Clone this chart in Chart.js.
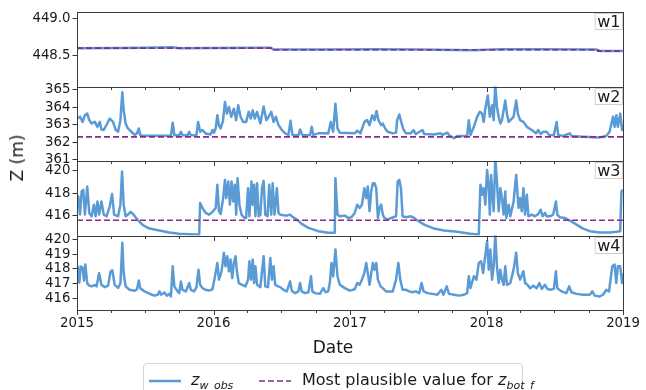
<!DOCTYPE html>
<html>
<head>
<meta charset="utf-8">
<title>Observed water level and bottom elevation, wells w1–w4</title>
<script src="https://cdn.jsdelivr.net/npm/chart.js@4.4.1/dist/chart.umd.min.js"></script>
<style>
  html, body { margin: 0; padding: 0; background: #ffffff; }
  #wrap { position: relative; width: 646px; height: 390px; overflow: hidden;
          font-family: "DejaVu Sans", sans-serif; color: #1a1a1a; }
  #plot { position: absolute; left: 0; top: 0; }
  #ylab { position: absolute; left: 17px; top: 158px; font-size: 17px; white-space: nowrap;
          transform: translate(-50%, -50%) rotate(-90deg); }
  #xlab { position: absolute; left: 333px; top: 347px; font-size: 17px;
          transform: translate(-50%, -50%); }
  #legend { position: absolute; left: 143px; top: 363px; width: 380px; height: 38px;
            box-sizing: border-box; border: 1px solid #d4d4d4; border-radius: 4px; background: #fff; }
  #legend svg { position: absolute; top: 0; }
  .lt { position: absolute; top: 6px; font-size: 16px; line-height: 20px; white-space: nowrap; }
  .lt i { font-style: italic; }
  .lt sub { font-size: 11px; font-style: italic; vertical-align: -4px; line-height: 0; }
</style>
</head>
<body>
<div id="wrap">
  <canvas id="plot" width="646" height="390"></canvas>
  <div id="ylab">Z (m)</div>
  <div id="xlab">Date</div>
  <div id="legend">
    <svg style="left:4px" width="34" height="36"><line x1="1" y1="17" x2="33" y2="17" stroke="#5b9bd5" stroke-width="2.5"/></svg>
    <div class="lt" style="left:47px"><i>z</i><sub>w_obs</sub></div>
    <svg style="left:114px" width="34" height="36"><line x1="1" y1="17" x2="33" y2="17" stroke="#8a2a8a" stroke-width="1.6" stroke-dasharray="6 3"/></svg>
    <div class="lt" style="left:158px">Most plausible value for <i>z</i><sub>bot_f</sub></div>
  </div>
</div>
<script>
// ---- axis ticks -------------------------------------------------------
const yearTicks = [2015, 2016, 2017, 2018, 2019];
const quarterTicks = [2015.247, 2015.496, 2015.748, 2016.247, 2016.496, 2016.748,
                      2017.247, 2017.496, 2017.748, 2018.247, 2018.496, 2018.748];
const wellNames = ['w1', 'w2', 'w3', 'w4'];
const w1Ticks = [448.5, 449.0];
const w2Ticks = [361, 362, 363, 364, 365];
const w3Ticks = [416, 418, 420];
const w4Ticks = [416, 417, 418, 419, 420];

// ---- observed water level z_w_obs: [decimal year, metres] ----------------
const w1Obs = [[2015.000, 448.600], [2015.300, 448.602], [2015.500, 448.605], [2015.700, 448.612],
  [2015.750, 448.600], [2016.000, 448.603], [2016.300, 448.606], [2016.420, 448.605],
  [2016.440, 448.580], [2016.800, 448.582], [2017.200, 448.585], [2017.500, 448.580],
  [2017.900, 448.572], [2018.100, 448.585], [2018.400, 448.585], [2018.800, 448.582],
  [2018.830, 448.562], [2019.000, 448.562]];

const w2Obs = [[2015.002, 363.35], [2015.022, 363.45], [2015.041, 363.16], [2015.058, 363.54],
  [2015.075, 363.63], [2015.090, 363.26], [2015.107, 363.07], [2015.131, 363.16], [2015.150, 362.88],
  [2015.167, 363.16], [2015.179, 362.73], [2015.196, 362.70], [2015.221, 363.07], [2015.240, 363.35],
  [2015.264, 363.16], [2015.284, 362.70], [2015.301, 362.60], [2015.318, 363.26], [2015.332, 364.85],
  [2015.342, 363.82], [2015.356, 363.07], [2015.373, 362.79], [2015.398, 362.60], [2015.422, 362.42],
  [2015.439, 362.51], [2015.453, 362.79], [2015.463, 362.42], [2015.482, 362.38], [2015.688, 362.38],
  [2015.701, 363.11], [2015.713, 362.40], [2015.749, 362.40], [2015.761, 362.60], [2015.773, 362.40],
  [2015.810, 362.40], [2015.822, 362.60], [2015.834, 362.40], [2015.875, 362.42], [2015.887, 363.16],
  [2015.902, 362.60], [2015.919, 362.70], [2015.943, 362.50], [2015.980, 362.45], [2015.992, 362.70],
  [2016.004, 362.55], [2016.016, 362.80], [2016.028, 363.54], [2016.040, 362.95], [2016.052, 362.79],
  [2016.069, 363.20], [2016.084, 364.29], [2016.098, 363.63], [2016.113, 364.01], [2016.130, 363.45],
  [2016.149, 363.91], [2016.166, 363.26], [2016.181, 364.10], [2016.198, 363.45], [2016.217, 363.16],
  [2016.239, 363.16], [2016.258, 363.73], [2016.273, 363.35], [2016.287, 363.82], [2016.302, 363.35],
  [2016.319, 363.73], [2016.343, 363.07], [2016.367, 364.04], [2016.387, 363.26], [2016.404, 363.45],
  [2016.423, 363.73], [2016.440, 363.16], [2016.457, 363.45], [2016.476, 362.98], [2016.501, 362.70],
  [2016.525, 362.51], [2016.549, 362.42], [2016.564, 363.22], [2016.578, 362.42], [2016.622, 362.40],
  [2016.634, 362.73], [2016.651, 362.42], [2016.707, 362.40], [2016.719, 362.88], [2016.731, 362.42],
  [2016.767, 362.51], [2016.816, 362.51], [2016.840, 362.50], [2016.859, 363.16], [2016.876, 362.60],
  [2016.893, 364.19], [2016.908, 362.79], [2016.925, 362.55], [2017.034, 362.51], [2017.053, 362.66],
  [2017.076, 362.51], [2017.105, 363.16], [2017.125, 363.26], [2017.143, 362.98], [2017.162, 363.54],
  [2017.179, 363.26], [2017.194, 363.78], [2017.208, 363.26], [2017.228, 362.98], [2017.240, 363.07],
  [2017.257, 362.79], [2017.276, 362.60], [2017.313, 362.51], [2017.337, 362.55], [2017.345, 363.26],
  [2017.361, 363.58], [2017.378, 363.07], [2017.393, 362.70], [2017.410, 362.51], [2017.446, 362.51],
  [2017.465, 362.70], [2017.482, 362.47], [2017.531, 362.70], [2017.543, 362.47], [2017.616, 362.45],
  [2017.664, 362.51], [2017.676, 362.42], [2017.713, 362.55], [2017.725, 362.42], [2017.761, 362.23],
  [2017.785, 362.36], [2017.834, 362.36], [2017.858, 362.38], [2017.870, 363.26], [2017.882, 362.42],
  [2017.907, 362.88], [2017.931, 363.45], [2017.950, 363.73], [2017.967, 363.63], [2017.979, 363.16],
  [2017.991, 363.91], [2018.009, 364.66], [2018.024, 363.45], [2018.040, 364.10], [2018.052, 363.26],
  [2018.064, 365.30], [2018.076, 364.01], [2018.089, 363.45], [2018.101, 363.07], [2018.113, 363.26],
  [2018.137, 364.38], [2018.149, 363.63], [2018.162, 363.16], [2018.198, 363.45], [2018.217, 364.38],
  [2018.229, 363.63], [2018.246, 363.26], [2018.270, 363.16], [2018.295, 362.88], [2018.331, 362.70],
  [2018.362, 362.51], [2018.379, 362.70], [2018.396, 362.47], [2018.416, 362.60], [2018.440, 362.60],
  [2018.459, 362.42], [2018.493, 362.40], [2018.513, 363.16], [2018.525, 362.42], [2018.561, 362.36],
  [2018.610, 362.51], [2018.622, 362.36], [2018.707, 362.32], [2018.829, 362.28], [2018.877, 362.36],
  [2018.901, 362.60], [2018.926, 363.45], [2018.938, 362.88], [2018.950, 363.54], [2018.962, 362.88],
  [2018.979, 363.63], [2018.993, 362.70], [2019.000, 363.00]];

const w3Obs = [[2015.000, 417.57], [2015.010, 417.72], [2015.022, 416.09], [2015.034, 418.16],
  [2015.046, 418.31], [2015.058, 416.09], [2015.075, 418.60], [2015.090, 416.24], [2015.107, 415.94],
  [2015.124, 416.98], [2015.136, 415.94], [2015.150, 417.27], [2015.162, 416.09], [2015.179, 417.27],
  [2015.196, 416.09], [2015.216, 415.94], [2015.240, 416.83], [2015.257, 417.93], [2015.272, 416.09],
  [2015.301, 415.94], [2015.318, 416.98], [2015.330, 419.94], [2015.342, 416.98], [2015.356, 415.94],
  [2015.373, 416.09], [2015.393, 416.33], [2015.410, 416.15], [2015.429, 415.85], [2015.453, 415.50],
  [2015.482, 415.14], [2015.531, 414.84], [2015.604, 414.67], [2015.676, 414.49], [2015.749, 414.37],
  [2015.822, 414.34], [2015.895, 414.31], [2015.902, 417.13], [2015.919, 416.68], [2015.943, 416.24],
  [2015.967, 416.09], [2015.992, 416.33], [2016.016, 416.68], [2016.028, 418.76], [2016.040, 416.39],
  [2016.052, 416.15], [2016.069, 417.42], [2016.084, 419.20], [2016.093, 417.57], [2016.108, 419.05],
  [2016.120, 416.98], [2016.132, 419.05], [2016.144, 417.27], [2016.156, 418.76], [2016.166, 416.09],
  [2016.176, 419.35], [2016.190, 416.98], [2016.205, 416.09], [2016.222, 415.85], [2016.239, 415.79],
  [2016.253, 418.46], [2016.263, 415.94], [2016.278, 419.05], [2016.287, 416.98], [2016.297, 418.76],
  [2016.307, 415.94], [2016.319, 418.90], [2016.331, 415.94], [2016.343, 416.09], [2016.355, 418.46],
  [2016.367, 419.11], [2016.379, 416.09], [2016.396, 415.94], [2016.408, 418.76], [2016.423, 416.09],
  [2016.433, 418.90], [2016.447, 416.09], [2016.464, 418.46], [2016.476, 416.24], [2016.488, 416.09],
  [2016.513, 416.03], [2016.537, 416.00], [2016.561, 416.09], [2016.573, 415.94], [2016.610, 415.64],
  [2016.646, 415.26], [2016.695, 414.90], [2016.767, 414.61], [2016.840, 414.46], [2016.888, 414.46],
  [2016.893, 419.35], [2016.908, 416.09], [2016.925, 415.94], [2016.962, 416.00], [2016.985, 415.79],
  [2017.010, 415.85], [2017.034, 416.24], [2017.053, 416.98], [2017.070, 416.68], [2017.087, 416.98],
  [2017.105, 418.46], [2017.118, 417.57], [2017.130, 418.60], [2017.143, 416.39], [2017.155, 418.16],
  [2017.167, 418.90], [2017.179, 418.90], [2017.192, 418.46], [2017.204, 415.79], [2017.216, 416.68],
  [2017.228, 416.98], [2017.240, 416.09], [2017.252, 415.79], [2017.276, 415.64], [2017.301, 415.79],
  [2017.337, 415.94], [2017.349, 419.05], [2017.361, 419.20], [2017.373, 418.46], [2017.385, 415.94],
  [2017.410, 415.85], [2017.446, 415.94], [2017.470, 415.79], [2017.494, 415.56], [2017.543, 415.20],
  [2017.616, 414.84], [2017.688, 414.67], [2017.785, 414.55], [2017.882, 414.37], [2017.943, 414.31],
  [2017.955, 418.76], [2017.967, 417.87], [2017.979, 418.46], [2017.991, 416.98], [2018.004, 420.09],
  [2018.016, 418.46], [2018.024, 416.09], [2018.033, 419.64], [2018.045, 417.57], [2018.052, 416.39],
  [2018.064, 421.13], [2018.076, 419.05], [2018.089, 416.39], [2018.101, 418.46], [2018.113, 417.57],
  [2018.125, 416.09], [2018.137, 418.16], [2018.145, 415.79], [2018.162, 416.98], [2018.174, 415.94],
  [2018.198, 417.27], [2018.217, 419.64], [2018.234, 416.68], [2018.246, 417.57], [2018.258, 416.39],
  [2018.270, 418.46], [2018.282, 416.09], [2018.295, 417.87], [2018.307, 415.94], [2018.331, 416.09],
  [2018.355, 415.94], [2018.379, 416.15], [2018.396, 416.53], [2018.411, 415.94], [2018.428, 416.24],
  [2018.440, 415.94], [2018.464, 415.94], [2018.488, 416.09], [2018.508, 417.27], [2018.518, 416.09],
  [2018.537, 415.85], [2018.573, 415.79], [2018.610, 415.56], [2018.659, 415.20], [2018.707, 414.84],
  [2018.756, 414.61], [2018.829, 414.49], [2018.901, 414.49], [2018.950, 414.55], [2018.979, 414.61],
  [2018.988, 418.16], [2018.998, 418.31]];

const w4Obs = [[2015.000, 417.49], [2015.005, 418.15], [2015.017, 417.05], [2015.027, 418.15],
  [2015.041, 418.10], [2015.051, 417.20], [2015.061, 418.30], [2015.075, 417.00], [2015.090, 416.85],
  [2015.107, 416.80], [2015.131, 416.90], [2015.143, 416.80], [2015.162, 417.70], [2015.179, 416.90],
  [2015.204, 416.75], [2015.228, 416.85], [2015.245, 417.80], [2015.259, 417.90], [2015.276, 416.90],
  [2015.301, 416.70], [2015.318, 417.00], [2015.332, 419.77], [2015.342, 417.71], [2015.356, 416.80],
  [2015.385, 416.57], [2015.422, 416.50], [2015.439, 416.60], [2015.453, 417.20], [2015.463, 416.68],
  [2015.495, 416.46], [2015.531, 416.30], [2015.567, 416.17], [2015.592, 416.23], [2015.604, 416.46],
  [2015.616, 416.23], [2015.640, 416.39], [2015.657, 416.17], [2015.676, 416.30], [2015.688, 416.11],
  [2015.701, 418.17], [2015.713, 416.80], [2015.737, 416.46], [2015.749, 416.34], [2015.761, 417.14],
  [2015.773, 416.57], [2015.798, 416.46], [2015.822, 417.03], [2015.834, 416.57], [2015.858, 416.46],
  [2015.875, 416.75], [2015.890, 417.94], [2015.902, 416.91], [2015.919, 416.68], [2015.943, 416.57],
  [2015.967, 416.51], [2015.992, 416.60], [2016.011, 417.49], [2016.028, 418.40], [2016.040, 417.26],
  [2016.059, 417.83], [2016.076, 419.09], [2016.088, 418.17], [2016.101, 418.86], [2016.113, 417.83],
  [2016.125, 418.63], [2016.137, 417.37], [2016.149, 418.40], [2016.161, 418.86], [2016.173, 417.71],
  [2016.185, 417.03], [2016.210, 416.91], [2016.234, 416.80], [2016.253, 417.26], [2016.263, 418.51],
  [2016.275, 417.26], [2016.287, 418.63], [2016.297, 417.03], [2016.307, 418.17], [2016.319, 416.91],
  [2016.343, 416.75], [2016.367, 418.86], [2016.379, 416.80], [2016.399, 416.75], [2016.416, 418.74],
  [2016.428, 417.26], [2016.440, 418.17], [2016.452, 416.91], [2016.472, 416.80], [2016.488, 416.75],
  [2016.513, 416.57], [2016.537, 416.46], [2016.561, 417.14], [2016.573, 416.51], [2016.598, 416.34],
  [2016.622, 416.46], [2016.634, 417.03], [2016.646, 416.46], [2016.670, 416.34], [2016.695, 416.40],
  [2016.714, 417.49], [2016.724, 416.46], [2016.743, 416.34], [2016.779, 416.29], [2016.804, 416.68],
  [2016.821, 416.40], [2016.840, 416.46], [2016.852, 417.03], [2016.864, 418.40], [2016.876, 417.49],
  [2016.893, 419.31], [2016.908, 417.49], [2016.925, 416.91], [2016.962, 416.68], [2016.998, 416.51],
  [2017.034, 416.60], [2017.053, 417.03], [2017.070, 416.91], [2017.087, 417.26], [2017.105, 417.71],
  [2017.118, 418.40], [2017.130, 417.71], [2017.143, 416.91], [2017.167, 418.40], [2017.179, 417.94],
  [2017.192, 418.40], [2017.204, 417.26], [2017.224, 416.80], [2017.240, 416.68], [2017.264, 416.46],
  [2017.288, 416.46], [2017.313, 416.46], [2017.337, 417.26], [2017.354, 418.40], [2017.368, 417.26],
  [2017.385, 416.57], [2017.410, 416.57], [2017.434, 416.46], [2017.458, 416.40], [2017.482, 416.46],
  [2017.507, 416.34], [2017.524, 417.03], [2017.539, 416.46], [2017.567, 416.34], [2017.604, 416.29],
  [2017.640, 416.23], [2017.669, 416.57], [2017.684, 416.23], [2017.708, 416.80], [2017.725, 416.29],
  [2017.761, 416.23], [2017.798, 416.17], [2017.834, 416.23], [2017.858, 416.34], [2017.870, 417.49],
  [2017.882, 416.68], [2017.907, 417.49], [2017.926, 417.26], [2017.943, 418.40], [2017.960, 418.51],
  [2017.975, 417.71], [2017.987, 418.63], [2018.004, 419.89], [2018.016, 417.94], [2018.028, 419.31],
  [2018.040, 417.26], [2018.052, 418.17], [2018.064, 420.34], [2018.076, 418.17], [2018.089, 417.03],
  [2018.101, 417.94], [2018.113, 417.26], [2018.125, 416.91], [2018.137, 418.17], [2018.149, 416.91],
  [2018.174, 417.03], [2018.198, 417.94], [2018.217, 419.09], [2018.229, 417.71], [2018.246, 417.26],
  [2018.270, 417.83], [2018.282, 417.03], [2018.299, 416.91], [2018.319, 416.68], [2018.343, 416.85],
  [2018.367, 416.68], [2018.387, 417.03], [2018.404, 416.63], [2018.428, 416.91], [2018.445, 416.63],
  [2018.464, 416.57], [2018.493, 416.63], [2018.508, 417.83], [2018.518, 416.68], [2018.549, 416.46],
  [2018.585, 416.34], [2018.605, 416.80], [2018.622, 416.40], [2018.659, 416.29], [2018.707, 416.23],
  [2018.756, 416.23], [2018.775, 416.46], [2018.792, 416.17], [2018.829, 416.11], [2018.853, 416.23],
  [2018.877, 416.57], [2018.897, 416.46], [2018.921, 418.17], [2018.938, 418.29], [2018.950, 417.03],
  [2018.962, 418.17], [2018.979, 418.17], [2018.993, 417.03], [2019.000, 417.71]];

// ---- most plausible bottom elevation z_bot_f: [decimal year, metres] -------
const w1Bot = [[2015.000, 448.600], [2016.430, 448.600], [2016.430, 448.578],
  [2018.815, 448.578], [2018.815, 448.560], [2019.000, 448.560]];
const w2Bot = [[2015.000, 362.31], [2019.000, 362.31]];
const w3Bot = [[2015.000, 415.58], [2019.000, 415.58]];

// ---- chart ---------------------------------------------------------------
const FONT = 'DejaVu Sans';
const toXY = rows => rows.map(([t, z]) => ({ x: t, y: z }));

function wellScale(lo, hi, ticks, digits, weight) {
  return {
    type: 'linear', position: 'left', stack: 'wells', stackWeight: 1, weight,
    min: lo, max: hi,
    afterBuildTicks: s => { s.ticks = ticks.map(v => ({ value: v })); },
    afterFit: s => { s.width = 77; },
    grid: { display: true, drawOnChartArea: false, drawTicks: true, tickLength: 4.5,
            color: '#333', tickColor: '#333', tickWidth: 1 },
    border: { display: false },
    ticks: { autoSkip: false, font: { family: FONT, size: 13.3 }, color: '#1a1a1a', padding: 2,
             callback: v => Number(v).toFixed(digits) }
  };
}

const obsStyle = { borderColor: '#5b9bd5', borderWidth: 2.5, pointRadius: 0, tension: 0,
                   borderJoinStyle: 'round', fill: false, order: 2 };
const botStyle = { borderColor: '#8a2a8a', borderWidth: 1.6, borderDash: [6, 3], pointRadius: 0,
                   tension: 0, fill: false, order: 1 };

// panel outlines, date ticks on every panel and the well name boxes
const panelFrames = {
  id: 'panelFrames',
  afterDatasetsDraw(chart) {
    const { ctx, chartArea, scales } = chart;
    const xs = scales.x;
    ctx.save();
    ['yW1', 'yW2', 'yW3', 'yW4'].forEach(id => {
      const s = scales[id];
      const top = Math.round(s.top) + 0.5, bottom = Math.round(s.bottom) + 0.5;
      ctx.strokeStyle = '#3c3c3c';
      ctx.lineWidth = 1;
      ctx.strokeRect(Math.round(chartArea.left) + 0.5, top,
                     Math.round(chartArea.right) - Math.round(chartArea.left), bottom - top);
      ctx.beginPath();
      yearTicks.forEach(t => {
        const px = Math.round(xs.getPixelForValue(t)) + 0.5;
        ctx.moveTo(px, bottom); ctx.lineTo(px, bottom + 4.5);
      });
      quarterTicks.forEach(t => {
        const px = Math.round(xs.getPixelForValue(t)) + 0.5;
        ctx.moveTo(px, bottom); ctx.lineTo(px, bottom + 2.5);
      });
      ctx.stroke();
    });
    ctx.restore();
  },
  afterDraw(chart) {
    const { ctx, chartArea, scales } = chart;
    ctx.save();
    ctx.font = '16px "' + FONT + '"';
    ['yW1', 'yW2', 'yW3', 'yW4'].forEach((id, i) => {
      const s = scales[id];
      const w = ctx.measureText(wellNames[i]).width + 4;
      const right = Math.round(chartArea.right) - 0.5;
      const top = Math.round(s.top) + 1.5;
      ctx.fillStyle = '#ffffff';
      ctx.fillRect(right - w, top, w, 16);
      ctx.strokeStyle = '#d0d0d0';
      ctx.lineWidth = 1;
      ctx.strokeRect(right - w, top, w, 16);
      ctx.fillStyle = '#1a1a1a';
      ctx.textBaseline = 'alphabetic';
      ctx.textAlign = 'left';
      ctx.fillText(wellNames[i], right - w + 2, top + 13.5);
    });
    ctx.restore();
  }
};

new Chart(document.getElementById('plot'), {
  type: 'line',
  data: {
    datasets: [
      { ...obsStyle, data: toXY(w1Obs), yAxisID: 'yW1', xAxisID: 'x' },
      { ...botStyle, data: toXY(w1Bot), yAxisID: 'yW1', xAxisID: 'x' },
      { ...obsStyle, data: toXY(w2Obs), yAxisID: 'yW2', xAxisID: 'x' },
      { ...botStyle, data: toXY(w2Bot), yAxisID: 'yW2', xAxisID: 'x' },
      { ...obsStyle, data: toXY(w3Obs), yAxisID: 'yW3', xAxisID: 'x' },
      { ...botStyle, data: toXY(w3Bot), yAxisID: 'yW3', xAxisID: 'x' },
      { ...obsStyle, data: toXY(w4Obs), yAxisID: 'yW4', xAxisID: 'x' }
    ]
  },
  options: {
    responsive: false,
    animation: false,
    devicePixelRatio: 1,
    layout: { padding: { left: 0, top: 12, right: 19, bottom: 60 } },
    plugins: { legend: { display: false }, tooltip: { enabled: false } },
    scales: {
      x: {
        type: 'linear', position: 'bottom', min: 2015, max: 2019,
        afterBuildTicks: s => { s.ticks = yearTicks.map(v => ({ value: v })); },
        afterFit: s => { s.height = 20; },
        grid: { display: false, drawTicks: false },
        border: { display: false },
        ticks: { autoSkip: false, maxRotation: 0, padding: 6, color: '#1a1a1a',
                 font: { family: FONT, size: 13.3 }, callback: v => String(Math.round(v)) }
      },
      yW1: wellScale(448.08, 449.09, w1Ticks, 1, 4),
      yW2: wellScale(360.94, 365.17, w2Ticks, 0, 3),
      yW3: wellScale(414.22, 420.89, w3Ticks, 0, 2),
      yW4: wellScale(415.19, 420.27, w4Ticks, 0, 1)
    }
  },
  plugins: [panelFrames]
});
</script>
</body>
</html>
